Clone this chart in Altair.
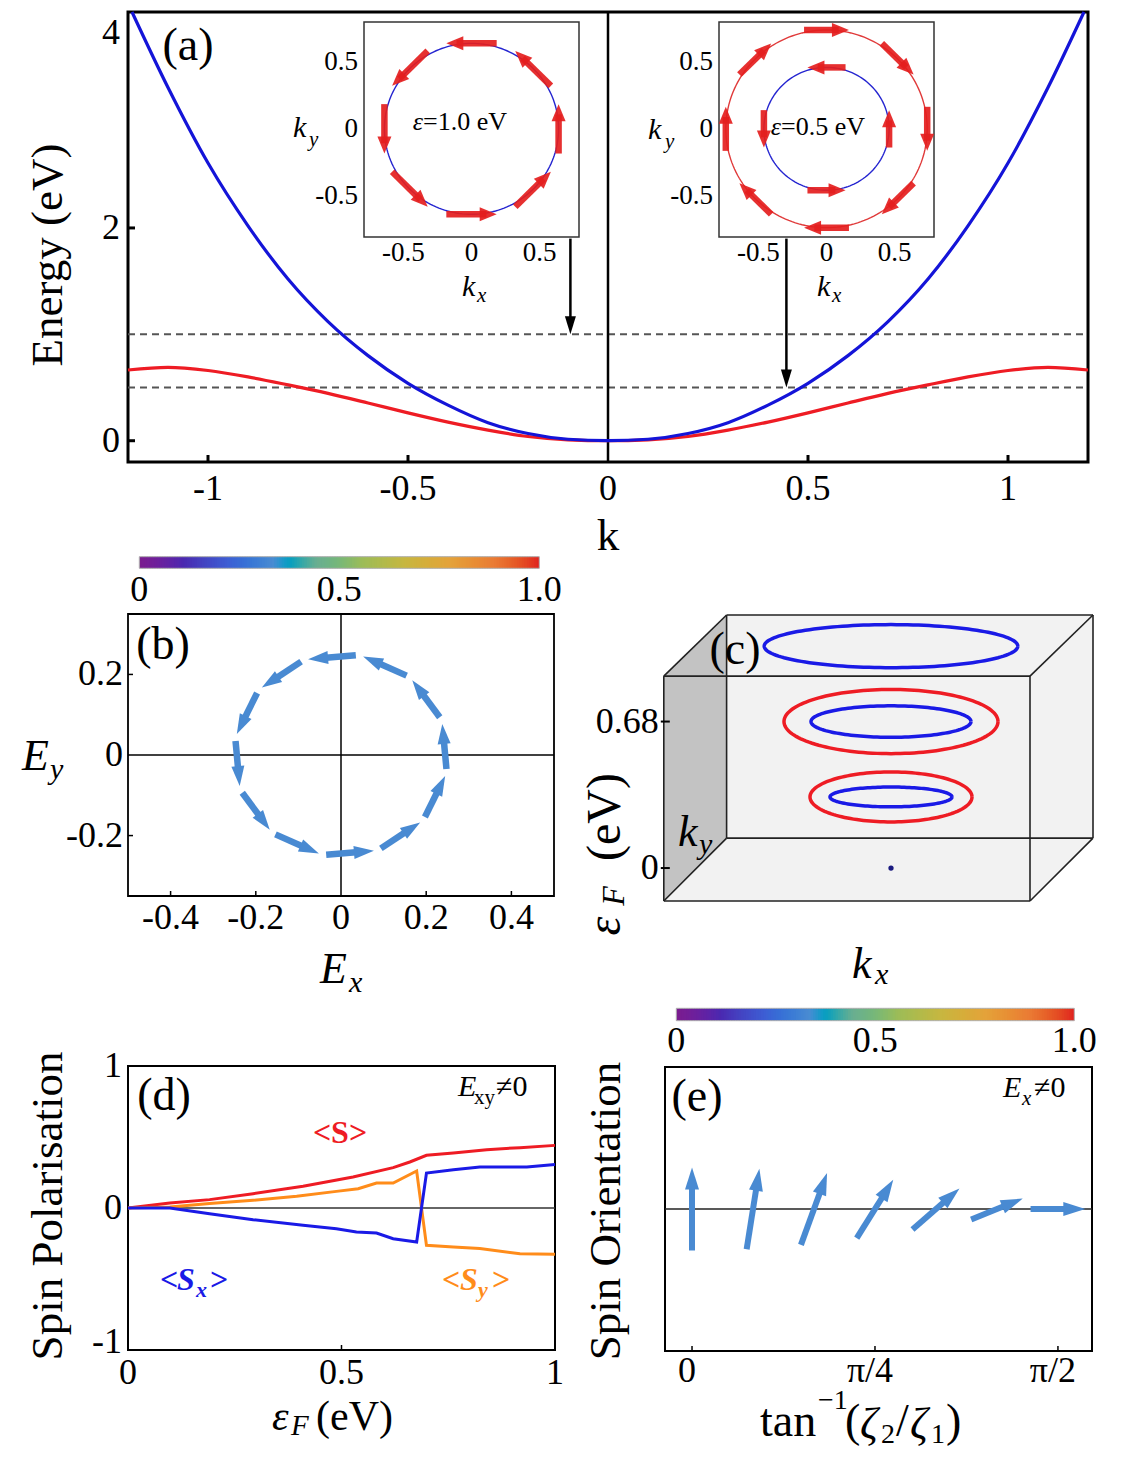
import math
import altair as alt
import numpy as np
import pandas as pd

W, H, M = 1109, 1453, 8
FONT = "Liberation Serif"

# ---------------- values ----------------
# (a) band dispersion
k_blue = [-1.19, -1.1, -1.0, -0.9, -0.8, -0.7, -0.6, -0.5, -0.4, -0.3, -0.2, -0.1, 0.0,
          0.1, 0.2, 0.3, 0.4, 0.5, 0.6, 0.7, 0.8, 0.9, 1.0, 1.1, 1.19]
E_blue = [4.03, 3.32, 2.61, 2.02, 1.52, 1.12, 0.80, 0.54, 0.335, 0.17, 0.068, 0.014, 0.0,
          0.014, 0.068, 0.17, 0.335, 0.54, 0.80, 1.12, 1.52, 2.02, 2.61, 3.32, 4.03]
k_red = [-1.2, -1.1, -1.0, -0.9, -0.8, -0.7, -0.6, -0.5, -0.4, -0.3, -0.2, -0.1, 0.0,
         0.1, 0.2, 0.3, 0.4, 0.5, 0.6, 0.7, 0.8, 0.9, 1.0, 1.1, 1.2]
E_red = [0.665, 0.69, 0.66, 0.60, 0.525, 0.445, 0.355, 0.262, 0.175, 0.10, 0.040, 0.008, 0.0,
         0.008, 0.040, 0.10, 0.175, 0.262, 0.355, 0.445, 0.525, 0.60, 0.66, 0.69, 0.665]
fermi_levels = [1.0, 0.5]
pointer_k = [-0.094, 0.446]
pointer_from = [1.9, 1.9]
pointer_to = [1.0, 0.5]

# (a) insets: Fermi contours and spin textures
inset1_r_blue = 0.64
inset2_r_blue = 0.46
inset2_r_red = 0.74
spin_pos8 = [0, 45, 90, 135, 180, 225, 270, 315]
spin_pos4 = [0, 90, 180, 270]
inset1_len = 0.37        # counter-clockwise texture
inset2_outer_len = 0.33  # clockwise texture
inset2_inner_len = 0.28  # counter-clockwise texture

# (b) spin polarisation vs field direction
b_radius = 0.25
b_tail_deg = [-8, 22, 52, 82, 112, 142, 172, 202, 232, 262, 292, 322]
b_span_deg = 26
b_mag = [0.33, 0.33, 0.33, 0.33, 0.33, 0.33, 0.33, 0.33, 0.33, 0.33, 0.33, 0.33]

# (c) Fermi contours at three Fermi energies
c_level = [1.03, 0.68, 0.68, 0.33, 0.33]
c_band = ["#1a1ae6", "#ee1c24", "#1a1ae6", "#ee1c24", "#1a1ae6"]
c_rx = [0.634, 0.535, 0.40, 0.405, 0.305]
c_ry = [0.10, 0.149, 0.073, 0.116, 0.046]

# (d) spin polarisation vs Fermi energy
d_eF_S = [0, 0.098, 0.191, 0.293, 0.41, 0.527, 0.621, 0.66, 0.699, 0.762, 0.84, 0.918, 1.0]
d_S = [0, 0.035, 0.059, 0.101, 0.153, 0.218, 0.284, 0.324, 0.371, 0.387, 0.411, 0.425, 0.441]
d_eF_Sy = [0, 0.098, 0.191, 0.293, 0.395, 0.488, 0.539, 0.582, 0.621, 0.676, 0.699, 0.762, 0.824, 0.918, 1.0]
d_Sy = [0, 0.007, 0.031, 0.054, 0.082, 0.117, 0.136, 0.176, 0.176, 0.261, -0.263, -0.275, -0.286, -0.322, -0.326]
d_eF_Sx = [0, 0.098, 0.191, 0.293, 0.41, 0.488, 0.535, 0.582, 0.621, 0.676, 0.699, 0.762, 0.824, 0.934, 1.0]
d_Sx = [0, 0.0, -0.04, -0.082, -0.122, -0.146, -0.169, -0.176, -0.216, -0.239, 0.246, 0.27, 0.289, 0.289, 0.307]

# (e) spin orientation vs tan^-1(zeta2/zeta1)
e_angle = [0.0, 0.2618, 0.5236, 0.7854, 1.0472, 1.3090, 1.5708]
e_spin_deg = [0, 9, 20, 32, 49, 68, 90]
e_spin_len = [1.0, 0.98, 0.92, 0.83, 0.75, 0.67, 0.66]
e_mag = [0.33, 0.33, 0.33, 0.33, 0.33, 0.33, 0.33]

# colour bar
cb_colors = ["#7b1d8e", "#4a28b0", "#3d5ed4", "#4a8bd2", "#6aae90", "#9cbc58",
             "#c8b640", "#e4a23a", "#ea7a34", "#e02020"]
cb_ticks = [0, 0.5, 1]
cb_labels = ["0", "0.5", "1.0"]

# tick labels
A_xticks, A_yticks = [-1, -0.5, 0, 0.5, 1], [0, 2, 4]
I_ticks = [-0.5, 0, 0.5]
B_xticks, B_yticks = [-0.4, -0.2, 0, 0.2, 0.4], [-0.2, 0, 0.2]
C_yticks = [0, 0.68]
D_xticks, D_yticks = [0, 0.5, 1], [-1, 0, 1]
E_xticks = [0, math.pi / 4, math.pi / 2]
E_xlabels = ["0", "π/4", "π/2"]

# ---------------- layout (page pixels) ----------------
A_xdom, A_xrng = [-1.2, 1.2], [128, 1088]
A_ydom, A_yrng = [-0.2, 4.03], [462, 12]
I_ydom, I_yrng = [-0.81, 0.80], [237, 22]
I1_xdom, I1_xrng = [-0.79, 0.79], [364, 579]
I2_xdom, I2_xrng = [-0.79, 0.79], [719, 934]
B_xdom, B_xrng = [-0.5, 0.5], [128, 554]
B_ydom, B_yrng = [-0.35, 0.35], [896, 614]
C_xdom, C_xrng = [-1.136, 1.01], [663.8, 1093]
C_ydom, C_yrng = [-0.153, 1.1746], [901, 615]
D_xdom, D_xrng = [0, 1], [128, 555]
D_ydom, D_yrng = [-1, 1], [1350, 1066]
E_xdom, E_xrng = [-0.116, 1.717], [665, 1092]
E_ydom, E_yrng = [-1, 1], [1351, 1067]
CB1_x, CB1_y = [139.3, 539.3], [568.3, 556.7]
CB2_x, CB2_y = [676.3, 1074.3], [1020.7, 1008.3]


def sc(dom, rng):
    return alt.Scale(domain=list(dom), range=[r - M for r in rng], nice=False, zero=False)


def ppu(dom, rng):
    return abs(rng[1] - rng[0]) / (dom[1] - dom[0])


def cscale():
    return alt.Scale(domain=[0, 1], range=cb_colors)


def fmt(v):
    return f"{v:g}"


def xlabels(xs, ys, vals, at, dy, size=36, labels=None, dx=0):
    labels = labels or [fmt(v) for v in vals]
    df = pd.DataFrame({"v": vals, "p": [at] * len(vals), "lab": labels})
    return alt.Chart(df).mark_text(font=FONT, fontSize=size, color="black", align="center",
                                   baseline="middle", dy=dy, dx=dx).encode(
        x=alt.X("v:Q", scale=xs, axis=None), y=alt.Y("p:Q", scale=ys, axis=None), text="lab:N")


def ylabels(xs, ys, vals, at, dx, size=36, labels=None, ymax=None, ymin=None):
    labels = labels or [fmt(v) for v in vals]
    pos = []
    for v in vals:
        if ymax is not None:
            v = min(v, ymax)
        if ymin is not None:
            v = max(v, ymin)
        pos.append(v)
    df = pd.DataFrame({"v": pos, "p": [at] * len(vals), "lab": labels})
    return alt.Chart(df).mark_text(font=FONT, fontSize=size, color="black", align="right",
                                   baseline="middle", dx=-dx).encode(
        x=alt.X("p:Q", scale=xs, axis=None), y=alt.Y("v:Q", scale=ys, axis=None), text="lab:N")


def frame(xs, ys, xdom, ydom, sw, fill="transparent", stroke="black"):
    df = pd.DataFrame({"x0": [xdom[0]], "x1": [xdom[1]], "y0": [ydom[0]], "y1": [ydom[1]]})
    return alt.Chart(df).mark_rect(fill=fill, stroke=stroke, strokeWidth=sw).encode(
        x=alt.X("x0:Q", scale=xs, axis=None), x2="x1:Q",
        y=alt.Y("y0:Q", scale=ys, axis=None), y2="y1:Q")


def segs(rows, xs, ys, sw, color="black", dash=None):
    kw = dict(strokeWidth=sw, color=color)
    if dash:
        kw["strokeDash"] = dash
    return alt.Chart(pd.DataFrame(rows)).mark_rule(**kw).encode(
        x=alt.X("x0:Q", scale=xs, axis=None), x2="x1:Q",
        y=alt.Y("y0:Q", scale=ys, axis=None), y2="y1:Q")


def inward_ticks(xs, ys, xdom, ydom, sx, sy, xvals, yvals, length, width):
    rows = [dict(x0=v, x1=v, y0=ydom[0], y1=ydom[0] + length / sy) for v in xvals]
    rows += [dict(x0=xdom[0], x1=xdom[0] + length / sx, y0=v, y1=v) for v in yvals]
    return segs(rows, xs, ys, width)


def arrow_df(tx, ty, hx, hy, sx, sy, head_len, extra=None):
    rows = []
    for i, (a, b, c, d) in enumerate(zip(tx, ty, hx, hy)):
        dxp, dyp = (c - a) * sx, (d - b) * sy
        L = math.hypot(dxp, dyp)
        ux, uy = dxp / L, dyp / L
        row = dict(x0=a, y0=b,
                   x1=c - ux * head_len * 0.6 / sx, y1=d - uy * head_len * 0.6 / sy,
                   hx=c - ux * head_len * 0.5 / sx, hy=d - uy * head_len * 0.5 / sy,
                   ang=math.degrees(math.atan2(ux, uy)) % 360)
        if extra:
            row.update({k: v[i] for k, v in extra.items()})
        rows.append(row)
    return pd.DataFrame(rows)


def arrow_layers(df, xs, ys, shaft_w, head_len, head_w, color=None, color_enc=None, opacity=1.0):
    a = head_w / head_len
    path = f"M0,-1L{a:.3f},1L{-a:.3f},1Z"
    enc_c = color_enc if color_enc is not None else alt.value(color)
    shaft = alt.Chart(df).mark_rule(strokeWidth=shaft_w, strokeCap="butt", opacity=opacity).encode(
        x=alt.X("x0:Q", scale=xs, axis=None), x2="x1:Q",
        y=alt.Y("y0:Q", scale=ys, axis=None), y2="y1:Q", color=enc_c)
    head = alt.Chart(df).mark_point(shape=path, filled=True, size=head_len ** 2,
                                    opacity=opacity, strokeWidth=0).encode(
        x=alt.X("hx:Q", scale=xs, axis=None), y=alt.Y("hy:Q", scale=ys, axis=None),
        angle=alt.Angle("ang:Q", scale=None), color=enc_c)
    return [shaft, head]


def circle_layer(r, xs, ys, color, sw):
    t = np.linspace(0, 2 * np.pi, 181)
    df = pd.DataFrame({"t": t, "cx": r * np.cos(t), "cy": r * np.sin(t)})
    return alt.Chart(df).mark_line(color=color, strokeWidth=sw).encode(
        x=alt.X("cx:Q", scale=xs, axis=None), y=alt.Y("cy:Q", scale=ys, axis=None),
        order="t:Q")


def tangent_arrows(r, positions, length, ccw):
    tx, ty, hx, hy = [], [], [], []
    s = 1 if ccw else -1
    for p in positions:
        ph = math.radians(p)
        px_, py_ = r * math.cos(ph), r * math.sin(ph)
        ux, uy = -math.sin(ph) * s, math.cos(ph) * s
        tx.append(px_ - ux * length / 2); ty.append(py_ - uy * length / 2)
        hx.append(px_ + ux * length / 2); hy.append(py_ + uy * length / 2)
    return tx, ty, hx, hy


def colorbar(xr, yr, label_dy):
    xs, ys = sc([0, 1], xr), sc([0, 1], yr)
    n = 160
    df = pd.DataFrame({"v0": [i / n for i in range(n)],
                       "v1": [min(1.0, (i + 1.6) / n) for i in range(n)],
                       "vm": [(i + 0.5) / n for i in range(n)],
                       "b0": [0.0] * n, "b1": [1.0] * n})
    strip = alt.Chart(df).mark_rect(strokeWidth=0).encode(
        x=alt.X("v0:Q", scale=xs, axis=None), x2="v1:Q",
        y=alt.Y("b0:Q", scale=ys, axis=None), y2="b1:Q",
        color=alt.Color("vm:Q", scale=cscale(), legend=None))
    return alt.layer(strip, frame(xs, ys, [0, 1], [0, 1], 1, stroke="#b0b0b0"),
                     xlabels(xs, ys, cb_ticks, 0, label_dy, labels=cb_labels))


# ---------------- panel (a) ----------------
xA, yA = sc(A_xdom, A_xrng), sc(A_ydom, A_yrng)
sxA, syA = ppu(A_xdom, A_xrng), ppu(A_ydom, A_yrng)
A_layers = [
    frame(xA, yA, A_xdom, A_ydom, 3),
    segs([dict(x0=A_xdom[0], x1=A_xdom[1], y0=e, y1=e) for e in fermi_levels], xA, yA, 2,
         color="#555555", dash=[7, 5]),
    segs([dict(x0=0, x1=0, y0=A_ydom[0], y1=A_ydom[1])], xA, yA, 2.5),
    inward_ticks(xA, yA, A_xdom, A_ydom, sxA, syA, [-1, -0.5, 0.5, 1], [0, 2], 7, 3),
    xlabels(xA, yA, A_xticks, A_ydom[0], 27),
    ylabels(xA, yA, A_yticks, A_xdom[0], 8, ymax=A_ydom[1] - 21 / syA),
    alt.Chart(pd.DataFrame({"k": k_red, "E": E_red})).mark_line(
        color="#ee1c24", strokeWidth=3.2, interpolate="monotone").encode(
        x=alt.X("k:Q", scale=xA, axis=None), y=alt.Y("E:Q", scale=yA, axis=None)),
    alt.Chart(pd.DataFrame({"k": k_blue, "E": E_blue})).mark_line(
        color="#1414d8", strokeWidth=3.2, interpolate="monotone").encode(
        x=alt.X("k:Q", scale=xA, axis=None), y=alt.Y("E:Q", scale=yA, axis=None)),
]
A_layers += arrow_layers(arrow_df(pointer_k, pointer_from, pointer_k, pointer_to, sxA, syA, 18),
                         xA, yA, 2.5, 18, 11, color="black")
panelA = alt.layer(*A_layers)


def inset(xdom, xrng, circles, arrow_sets):
    xs, ys = sc(xdom, xrng), sc(I_ydom, I_yrng)
    sx, sy = ppu(xdom, xrng), ppu(I_ydom, I_yrng)
    lay = [frame(xs, ys, xdom, I_ydom, 1.5, fill="white", stroke="#333333"),
           xlabels(xs, ys, I_ticks, I_ydom[0], 16, size=27),
           ylabels(xs, ys, I_ticks, xdom[0], 6, size=27)]
    for r, col in circles:
        lay.append(circle_layer(r, xs, ys, col, 1.4))
    for (r, pos, ln, ccw) in arrow_sets:
        tx, ty, hx, hy = tangent_arrows(r, pos, ln, ccw)
        lay += arrow_layers(arrow_df(tx, ty, hx, hy, sx, sy, 17), xs, ys, 6.5, 17, 14,
                            color="#e41e1e", opacity=0.92)
    return alt.layer(*lay)


inset1 = inset(I1_xdom, I1_xrng, [(inset1_r_blue, "#2525d0")],
               [(inset1_r_blue, spin_pos8, inset1_len, True)])
inset2 = inset(I2_xdom, I2_xrng, [(inset2_r_red, "#e03a3a"), (inset2_r_blue, "#2525d0")],
               [(inset2_r_red, spin_pos8, inset2_outer_len, False),
                (inset2_r_blue, spin_pos4, inset2_inner_len, True)])

# ---------------- panel (b) ----------------
xB, yB = sc(B_xdom, B_xrng), sc(B_ydom, B_yrng)
sxB, syB = ppu(B_xdom, B_xrng), ppu(B_ydom, B_yrng)
b_tx = [b_radius * math.cos(math.radians(a)) for a in b_tail_deg]
b_ty = [b_radius * math.sin(math.radians(a)) for a in b_tail_deg]
b_hx = [b_radius * math.cos(math.radians(a + b_span_deg)) for a in b_tail_deg]
b_hy = [b_radius * math.sin(math.radians(a + b_span_deg)) for a in b_tail_deg]
colB = alt.Color("mag:Q", scale=cscale(), legend=None)
B_layers = [
    frame(xB, yB, B_xdom, B_ydom, 1.8),
    segs([dict(x0=B_xdom[0], x1=B_xdom[1], y0=0, y1=0),
          dict(x0=0, x1=0, y0=B_ydom[0], y1=B_ydom[1])], xB, yB, 1.5),
    inward_ticks(xB, yB, B_xdom, B_ydom, sxB, syB, [-0.4, -0.2, 0.2, 0.4], [-0.2, 0.2], 5, 1.5),
    xlabels(xB, yB, B_xticks, B_ydom[0], 22),
    ylabels(xB, yB, B_yticks, B_xdom[0], 5),
]
B_layers += arrow_layers(arrow_df(b_tx, b_ty, b_hx, b_hy, sxB, syB, 20, extra={"mag": b_mag}),
                         xB, yB, 6.5, 20, 13, color_enc=colB)
panelB = alt.layer(*B_layers)

# ---------------- panel (c) ----------------
xC, yC = sc(C_xdom, C_xrng), sc(C_ydom, C_yrng)
sxC = ppu(C_xdom, C_xrng)
fx0, fx1 = C_xdom[0], 0.695          # front face
fy0, fy1 = C_ydom[0], 0.891
bx0, bx1 = -0.822, C_xdom[1]         # back face
by0, by1 = 0.139, C_ydom[1]
hexdf = pd.DataFrame({"x": [fx0, bx0, fx1, bx1], "top": [fy1, by1, by1, by1],
                      "bot": [fy0, fy0, fy0, by0]})
leftdf = pd.DataFrame({"x": [fx0, bx0], "top": [fy1, by1], "bot": [fy0, by0]})
edges = [
    dict(x0=fx0, x1=fx1, y0=fy0, y1=fy0), dict(x0=fx0, x1=fx1, y0=fy1, y1=fy1),
    dict(x0=fx0, x1=fx0, y0=fy0, y1=fy1), dict(x0=fx1, x1=fx1, y0=fy0, y1=fy1),
    dict(x0=bx0, x1=bx1, y0=by0, y1=by0), dict(x0=bx0, x1=bx1, y0=by1, y1=by1),
    dict(x0=bx0, x1=bx0, y0=by0, y1=by1), dict(x0=bx1, x1=bx1, y0=by0, y1=by1),
    dict(x0=fx0, x1=bx0, y0=fy0, y1=by0), dict(x0=fx0, x1=bx0, y0=fy1, y1=by1),
    dict(x0=fx1, x1=bx1, y0=fy0, y1=by0), dict(x0=fx1, x1=bx1, y0=fy1, y1=by1),
]
t = np.linspace(0, 2 * np.pi, 145)
ell = pd.concat([pd.DataFrame({"id": i, "t": t, "x": rx * np.cos(t), "y": lv + ry * np.sin(t), "col": c})
                 for i, (lv, c, rx, ry) in enumerate(zip(c_level, c_band, c_rx, c_ry))])
C_layers = [
    alt.Chart(hexdf).mark_area(color="#f2f2f2").encode(
        x=alt.X("x:Q", scale=xC, axis=None), y=alt.Y("top:Q", scale=yC, axis=None), y2="bot:Q"),
    alt.Chart(leftdf).mark_area(color="#c3c3c3").encode(
        x=alt.X("x:Q", scale=xC, axis=None), y=alt.Y("top:Q", scale=yC, axis=None), y2="bot:Q"),
    segs(edges, xC, yC, 1.6, color="#222222"),
    segs([dict(x0=C_xdom[0] - 3 / sxC, x1=C_xdom[0] + 6 / sxC, y0=v, y1=v) for v in C_yticks], xC, yC, 2),
    ylabels(xC, yC, C_yticks, C_xdom[0], 5),
    alt.Chart(ell).mark_line(strokeWidth=3.5).encode(
        x=alt.X("x:Q", scale=xC, axis=None), y=alt.Y("y:Q", scale=yC, axis=None),
        detail="id:N", order="t:Q", color=alt.Color("col:N", scale=None)),
    alt.Chart(pd.DataFrame({"x": [0.0], "y": [0.0]})).mark_point(
        filled=True, size=28, color="#1a1a80", opacity=1).encode(
        x=alt.X("x:Q", scale=xC, axis=None), y=alt.Y("y:Q", scale=yC, axis=None)),
]
panelC = alt.layer(*C_layers)

# ---------------- panel (d) ----------------
xD, yD = sc(D_xdom, D_xrng), sc(D_ydom, D_yrng)
sxD, syD = ppu(D_xdom, D_xrng), ppu(D_ydom, D_yrng)
dlines = pd.concat([
    pd.DataFrame({"eF": d_eF_S, "v": d_S, "s": "S", "col": "#ee1c24"}),
    pd.DataFrame({"eF": d_eF_Sy, "v": d_Sy, "s": "Sy", "col": "#ff8c1a"}),
    pd.DataFrame({"eF": d_eF_Sx, "v": d_Sx, "s": "Sx", "col": "#1a1ae6"}),
])
D_layers = [
    frame(xD, yD, D_xdom, D_ydom, 2),
    segs([dict(x0=D_xdom[0], x1=D_xdom[1], y0=0, y1=0)], xD, yD, 1.5, color="#333333"),
    inward_ticks(xD, yD, D_xdom, D_ydom, sxD, syD, [0.5], [], 5, 1.5),
    xlabels(xD, yD, D_xticks, D_ydom[0], 23),
    ylabels(xD, yD, D_yticks, D_xdom[0], 6, ymin=D_ydom[0] + 8 / syD),
    alt.Chart(dlines).mark_line(strokeWidth=3).encode(
        x=alt.X("eF:Q", scale=xD, axis=None), y=alt.Y("v:Q", scale=yD, axis=None),
        detail="s:N", color=alt.Color("col:N", scale=None)),
]
panelD = alt.layer(*D_layers)

# ---------------- panel (e) ----------------
xE, yE = sc(E_xdom, E_xrng), sc(E_ydom, E_yrng)
sxE, syE = ppu(E_xdom, E_xrng), ppu(E_ydom, E_yrng)
L0 = 83.0  # pixel length of a unit spin arrow
e_tx, e_ty, e_hx, e_hy = [], [], [], []
for xa, psi, ln in zip(e_angle, e_spin_deg, e_spin_len):
    hxp = 0.5 * ln * L0 * math.sin(math.radians(psi))
    hyp = 0.5 * ln * L0 * math.cos(math.radians(psi))
    e_tx.append(xa - hxp / sxE); e_ty.append(-hyp / syE)
    e_hx.append(xa + hxp / sxE); e_hy.append(hyp / syE)
colE = alt.Color("mag:Q", scale=cscale(), legend=None)
E_layers = [
    frame(xE, yE, E_xdom, E_ydom, 2),
    segs([dict(x0=E_xdom[0], x1=E_xdom[1], y0=0, y1=0)], xE, yE, 1.5, color="#222222"),
    inward_ticks(xE, yE, E_xdom, E_ydom, sxE, syE, E_xticks, [], 5, 1.5),
    xlabels(xE, yE, E_xticks, E_ydom[0], 20, labels=E_xlabels, dx=-5),
]
E_layers += arrow_layers(arrow_df(e_tx, e_ty, e_hx, e_hy, sxE, syE, 22, extra={"mag": e_mag}),
                         xE, yE, 6, 22, 14, color_enc=colE)
panelE = alt.layer(*E_layers)

cbar1 = colorbar(CB1_x, CB1_y, 22)
cbar2 = colorbar(CB2_x, CB2_y, 20)

# ---------------- annotations ----------------
RED, BLUE, ORANGE = "#ee1c24", "#1a1ae6", "#ff8c1a"


def T(px, py, text, size=36, color="black", angle=0, style="normal", weight="normal", align="left"):
    return (px, py, text, size, color, angle, style, weight, align)


items = [
    T(188, 46, "(a)", 46, align="center"),
    T(48, 255, "Energy (eV)", 45, angle=270, align="center"),
    T(608, 536, "k", 45, align="center"),
    T(423, 122, "ε", 26, style="italic", align="right"), T(423, 122, "=1.0 eV", 26),
    T(293, 128, "k", 30, style="italic"), T(309, 140, "y", 21, style="italic"),
    T(462, 287, "k", 30, style="italic"), T(477, 296, "x", 21, style="italic"),
    T(781, 127, "ε", 26, style="italic", align="right"), T(781, 127, "=0.5 eV", 26),
    T(648, 130, "k", 30, style="italic"), T(665, 142, "y", 21, style="italic"),
    T(817, 287, "k", 30, style="italic"), T(832, 296, "x", 21, style="italic"),
    T(163, 645, "(b)", 46, align="center"),
    T(22, 757, "E", 44, style="italic"), T(50, 770, "y", 30, style="italic"),
    T(320, 970, "E", 44, style="italic"), T(349, 983, "x", 30, style="italic"),
    T(735, 650, "(c)", 46, align="center"),
    T(606, 926, "ε", 48, angle=270, style="italic", align="center"),
    T(614, 896, "F", 32, angle=270, style="italic", align="center"),
    T(606, 817, "(eV)", 48, angle=270, align="center"),
    T(678, 833, "k", 44, style="italic"), T(699, 845, "y", 30, style="italic"),
    T(852, 965, "k", 44, style="italic"), T(875, 975, "x", 30, style="italic"),
    T(164, 1096, "(d)", 46, align="center"),
    T(458, 1087, "E", 30, style="italic"), T(474, 1098, "xy", 21), T(496, 1087, "≠0", 30),
    T(340, 1133, "<S>", 32, color=RED, weight="bold", align="center"),
    T(160, 1280, "<", 32, color=BLUE, weight="bold"),
    T(177, 1280, "S", 32, color=BLUE, style="italic", weight="bold"),
    T(196, 1290, "x", 22, color=BLUE, style="italic", weight="bold"),
    T(210, 1280, ">", 32, color=BLUE, weight="bold"),
    T(442, 1280, "<", 32, color=ORANGE, weight="bold"),
    T(460, 1280, "S", 32, color=ORANGE, style="italic", weight="bold"),
    T(478, 1290, "y", 22, color=ORANGE, style="italic", weight="bold"),
    T(492, 1280, ">", 32, color=ORANGE, weight="bold"),
    T(48, 1206, "Spin Polarisation", 45, angle=270, align="center"),
    T(272, 1417, "ε", 42, style="italic"), T(291, 1426, "F", 29, style="italic"), T(316, 1417, "(eV)", 42),
    T(697, 1097, "(e)", 46, align="center"),
    T(1003, 1088, "E", 30, style="italic"), T(1022, 1099, "x", 21, style="italic"), T(1034, 1088, "≠0", 30),
    T(606, 1211, "Spin Orientation", 45, angle=270, align="center"),
    T(760, 1422, "tan", 46), T(818, 1401, "−1", 28), T(845, 1422, "(", 46),
    T(860, 1425, "ζ", 44, style="italic"), T(881, 1435, "2", 28), T(896, 1422, "/", 46),
    T(910, 1425, "ζ", 44, style="italic"), T(931, 1435, "1", 28), T(946, 1422, ")", 46),
]

groups = {}
for it in items:
    groups.setdefault((it[6], it[7], it[8]), []).append(it)
text_layers = []
for (style, weight, align), its in groups.items():
    df = pd.DataFrame([dict(px=i[0] - M, py=i[1] - M, text=i[2], fs=i[3], col=i[4], ang=i[5]) for i in its])
    text_layers.append(alt.Chart(df).mark_text(font=FONT, fontStyle=style, fontWeight=weight,
                                               align=align, baseline="middle").encode(
        x=alt.X("px:Q", scale=None), y=alt.Y("py:Q", scale=None), text="text:N",
        size=alt.Size("fs:Q", scale=None), color=alt.Color("col:N", scale=None),
        angle=alt.Angle("ang:Q", scale=None)))

chart = alt.layer(panelA, inset1, inset2, cbar1, panelB, panelC, cbar2, panelD, panelE,
                  *text_layers).resolve_scale(
    x="independent", y="independent", color="independent"
).properties(
    width=W, height=H, padding=0, background="white",
    autosize=alt.AutoSizeParams(type="none"),
).configure_view(strokeWidth=0)

chart.save("out.html", embed_options={"renderer": "svg", "actions": False})
